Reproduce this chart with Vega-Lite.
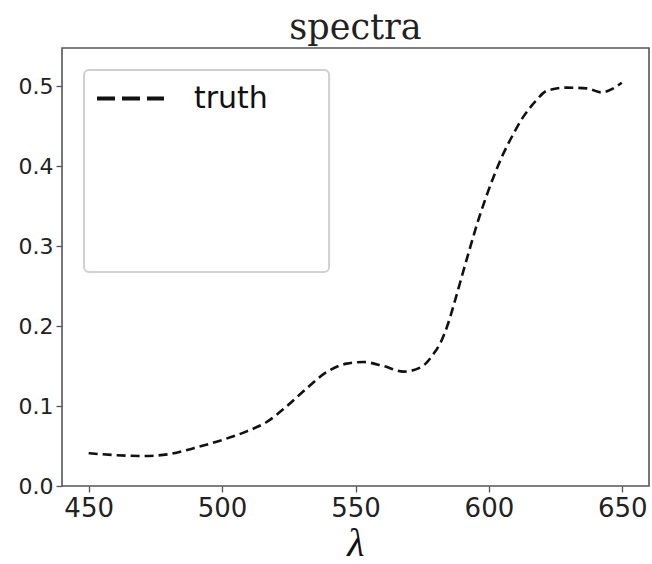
{
  "$schema": "https://vega.github.io/schema/vega-lite/v6.json",
  "autosize": {"type": "none"},
  "padding": {"left": 62, "top": 48, "right": 3, "bottom": 78},
  "width": 587,
  "height": 438,
  "background": "white",
  "title": {
    "text": "spectra",
    "font": "DejaVu Serif",
    "fontSize": 35,
    "fontWeight": "normal",
    "color": "#222",
    "anchor": "middle",
    "offset": 2
  },
  "config": {
    "view": {"stroke": "#555", "strokeWidth": 1.6},
    "axis": {
      "domain": false,
      "grid": false,
      "tickColor": "#555",
      "tickSize": 6,
      "tickWidth": 1.3,
      "labelFont": "DejaVu Sans",
      "labelColor": "#222"
    }
  },
  "layer": [
    {
      "data": {"values": [{}]},
      "mark": {"type": "rect", "fill": "white", "stroke": "#d0d0d0", "strokeWidth": 2, "cornerRadius": 5},
      "encoding": {
        "x": {"datum": 448.25, "type": "quantitative", "scale": {"domain": [440, 660], "nice": false, "zero": false}},
        "x2": {"datum": 540.1},
        "y": {"datum": 0.52, "type": "quantitative", "scale": {"domain": [0, 0.5475], "nice": false, "zero": false}},
        "y2": {"datum": 0.2675}
      }
    },
    {
      "data": {
        "values": [
          {"wavelength": 450, "reflectance": 0.041, "series": "truth"},
          {"wavelength": 460.5, "reflectance": 0.0385, "series": "truth"},
          {"wavelength": 471, "reflectance": 0.0375, "series": "truth"},
          {"wavelength": 480.5, "reflectance": 0.040, "series": "truth"},
          {"wavelength": 489, "reflectance": 0.047, "series": "truth"},
          {"wavelength": 500, "reflectance": 0.0575, "series": "truth"},
          {"wavelength": 509, "reflectance": 0.068, "series": "truth"},
          {"wavelength": 516.7, "reflectance": 0.080, "series": "truth"},
          {"wavelength": 524, "reflectance": 0.099, "series": "truth"},
          {"wavelength": 531.7, "reflectance": 0.122, "series": "truth"},
          {"wavelength": 539, "reflectance": 0.142, "series": "truth"},
          {"wavelength": 546.7, "reflectance": 0.153, "series": "truth"},
          {"wavelength": 553, "reflectance": 0.155, "series": "truth"},
          {"wavelength": 560.4, "reflectance": 0.150, "series": "truth"},
          {"wavelength": 568, "reflectance": 0.143, "series": "truth"},
          {"wavelength": 574.8, "reflectance": 0.149, "series": "truth"},
          {"wavelength": 579, "reflectance": 0.164, "series": "truth"},
          {"wavelength": 582, "reflectance": 0.18, "series": "truth"},
          {"wavelength": 584.3, "reflectance": 0.199, "series": "truth"},
          {"wavelength": 586.8, "reflectance": 0.226, "series": "truth"},
          {"wavelength": 589.6, "reflectance": 0.259, "series": "truth"},
          {"wavelength": 592.6, "reflectance": 0.294, "series": "truth"},
          {"wavelength": 595.6, "reflectance": 0.328, "series": "truth"},
          {"wavelength": 598.6, "reflectance": 0.358, "series": "truth"},
          {"wavelength": 601.7, "reflectance": 0.386, "series": "truth"},
          {"wavelength": 604.8, "reflectance": 0.411, "series": "truth"},
          {"wavelength": 609, "reflectance": 0.439, "series": "truth"},
          {"wavelength": 613, "reflectance": 0.462, "series": "truth"},
          {"wavelength": 617.5, "reflectance": 0.481, "series": "truth"},
          {"wavelength": 621.7, "reflectance": 0.494, "series": "truth"},
          {"wavelength": 629.2, "reflectance": 0.498, "series": "truth"},
          {"wavelength": 636.7, "reflectance": 0.497, "series": "truth"},
          {"wavelength": 642.3, "reflectance": 0.492, "series": "truth"},
          {"wavelength": 646.6, "reflectance": 0.497, "series": "truth"},
          {"wavelength": 649.8, "reflectance": 0.504, "series": "truth"}
        ]
      },
      "mark": {"type": "line", "strokeWidth": 2.6, "strokeDash": [9, 5], "interpolate": "monotone"},
      "encoding": {
        "x": {
          "field": "wavelength",
          "type": "quantitative",
          "scale": {"domain": [440, 660], "nice": false, "zero": false},
          "axis": {
            "values": [450, 500, 550, 600, 650],
            "labelFontSize": 26,
            "labelPadding": 3,
            "title": "λ",
            "titleFont": "Liberation Serif",
            "titleFontStyle": "italic",
            "titleFontWeight": "normal",
            "titleFontSize": 40,
            "titleColor": "#111",
            "titlePadding": 2
          }
        },
        "y": {
          "field": "reflectance",
          "type": "quantitative",
          "scale": {"domain": [0, 0.5475], "nice": false, "zero": false},
          "axis": {
            "values": [0, 0.1, 0.2, 0.3, 0.4, 0.5],
            "format": ".1f",
            "labelFontSize": 22,
            "labelPadding": 3,
            "title": null
          }
        },
        "color": {
          "field": "series",
          "type": "nominal",
          "scale": {"range": ["#111111"]},
          "legend": {
            "title": null,
            "orient": "none",
            "legendX": 33,
            "legendY": 15,
            "padding": 0,
            "symbolType": "stroke",
            "symbolSize": 4489,
            "symbolStrokeWidth": 4,
            "symbolDash": [18, 7],
            "labelFont": "DejaVu Sans",
            "labelFontSize": 30,
            "labelColor": "#111",
            "labelOffset": 28
          }
        }
      }
    }
  ]
}
